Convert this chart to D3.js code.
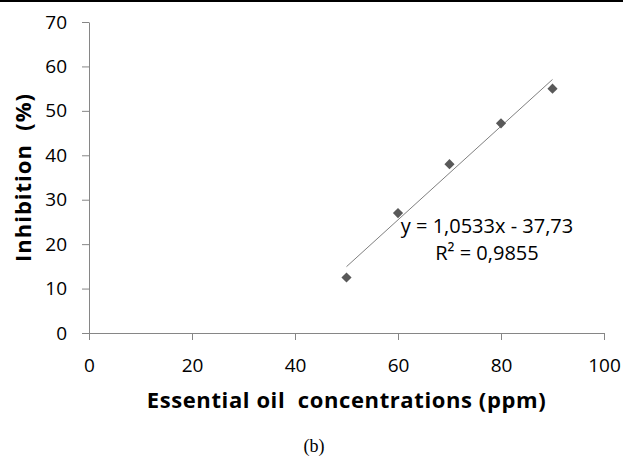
<!DOCTYPE html>
<html>
<head>
<meta charset="utf-8">
<script src="https://cdn.jsdelivr.net/npm/d3@7"></script>
<style>
body { margin: 0; background: #fff; }
svg { display: block; }
</style>
</head>
<body>
<svg width="623" height="459"></svg>
<script>
var concentrations = [50, 60, 70, 80, 90];
var inhibition = [12.5, 27, 38, 47.2, 55];
var xTicks = [0, 20, 40, 60, 80, 100];
var yTicks = [0, 10, 20, 30, 40, 50, 60, 70];
var slope = 1.0533, intercept = -37.73;
var equationLines = ["y = 1,0533x - 37,73", "R² = 0,9855"];

var svg = d3.select("svg"),
	width = +svg.attr("width"),
	height = +svg.attr("height");

var font = "'Open Sans', sans-serif";
var axisColor = "#868686";

// black rule at the top of the figure
svg.append("rect").attr("x", 0).attr("y", 0).attr("width", width).attr("height", 2).attr("fill", "#000");

var x = d3.scaleLinear().domain([0, 100]).range([89, 604]);
var y = d3.scaleLinear().domain([0, 70]).range([333, 22]);

var xAxis = svg.append("g")
	.attr("transform", "translate(0," + y(0) + ")")
	.call(d3.axisBottom(x).tickValues(xTicks).tickSize(7).tickSizeOuter(0).tickPadding(19));

var yAxis = svg.append("g")
	.attr("transform", "translate(" + x(0) + ",0)")
	.call(d3.axisLeft(y).tickValues(yTicks).tickSize(7).tickSizeOuter(0).tickPadding(15));

[xAxis, yAxis].forEach(function(a) {
	a.select(".domain").attr("stroke", axisColor);
	a.selectAll(".tick line").attr("stroke", axisColor);
	a.selectAll("text").attr("fill", "#000").style("font-family", font).style("font-size", "19px");
});

// trendline over the data range
var xr = d3.extent(concentrations);
svg.append("line")
	.attr("x1", x(xr[0])).attr("y1", y(slope * xr[0] + intercept))
	.attr("x2", x(xr[1])).attr("y2", y(slope * xr[1] + intercept))
	.attr("stroke", "#7f7f7f").attr("stroke-width", 1);

svg.selectAll(".pt")
	.data(concentrations)
	.enter()
	.append("path")
	.attr("class", "pt")
	.attr("d", d3.symbol().type(d3.symbolDiamond2).size(66))
	.attr("transform", function(d, i) { return "translate(" + x(d) + "," + y(inhibition[i]) + ")"; })
	.attr("fill", "#595959");

svg.append("text")
	.attr("x", 487).attr("y", 233)
	.attr("text-anchor", "middle")
	.style("font-family", font).style("font-size", "20px")
	.selectAll("tspan")
	.data(equationLines)
	.enter()
	.append("tspan")
	.attr("x", 487)
	.attr("dy", function(d, i) { return i ? 27 : 0; })
	.text(function(d) { return d; });

svg.append("text")
	.attr("x", (x(0) + x(100)) / 2).attr("y", 408)
	.attr("text-anchor", "middle")
	.style("font-family", font).style("font-size", "22px").style("font-weight", "bold")
	.style("letter-spacing", "0.6px")
	.style("white-space", "pre")
	.text("Essential oil  concentrations (ppm)");

svg.append("text")
	.attr("transform", "translate(31," + (y(0) + y(70)) / 2 + ") rotate(-90)")
	.attr("text-anchor", "middle")
	.style("font-family", font).style("font-size", "22px").style("font-weight", "bold")
	.style("letter-spacing", "1px")
	.style("white-space", "pre")
	.text("Inhibition  (%)");

svg.append("text")
	.attr("x", 314).attr("y", 452)
	.attr("text-anchor", "middle")
	.style("font-family", "'Liberation Serif', serif").style("font-size", "18px")
	.text("(b)");
</script>
</body>
</html>
